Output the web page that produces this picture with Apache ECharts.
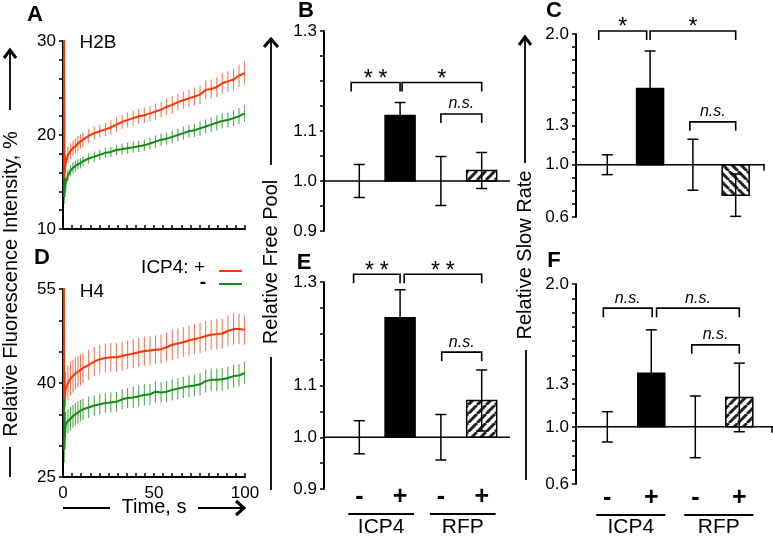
<!DOCTYPE html>
<html><head><meta charset="utf-8">
<script src="https://cdn.jsdelivr.net/npm/echarts@6/dist/echarts.min.js"></script>
<style>html,body{margin:0;padding:0;background:#fff}#c{width:773px;height:538px}</style>
</head><body><div id="c"></div>
<script>
// ---------- Data: panels A & D (time courses) ----------
const timeS = [0, 0.7, 1.4, 2.7, 4.1, 5.5, 6.8, 8.2, 9.6,
  11, 14.1, 17.2, 20.2, 23.3, 26.3, 29.4, 32.5, 35.5, 38.6,
  41.6, 44.7, 47.8, 50.8, 53.9, 56.9, 60, 63.1, 66.1, 69.2,
  72.2, 75.3, 78.4, 81.4, 84.5, 87.5, 90.6, 93.7, 96.7, 99.8];
const h2bPlus = [100, 15.4, 17.0, 17.9, 18.3, 18.6, 18.8, 19.1, 19.3,
  19.5, 19.9, 20.2, 20.4, 20.6, 20.8, 21.1, 21.4, 21.6, 21.8,
  22.0, 22.1, 22.3, 22.5, 22.7, 23.0, 23.2, 23.5, 23.7, 23.9,
  24.1, 24.3, 24.8, 24.9, 25.1, 25.5, 25.7, 25.9, 26.3, 26.6];
const h2bPlusErr = [0, 0.9, 0.9, 0.9, 0.85, 0.8, 0.8, 0.8, 0.75,
  0.75, 0.75, 0.7, 0.7, 0.7, 0.75, 0.75, 0.75, 0.8, 0.8,
  0.8, 0.8, 0.8, 0.85, 0.85, 0.85, 0.9, 0.9, 0.9, 0.95,
  0.95, 1.0, 1.0, 1.0, 1.05, 1.1, 1.1, 1.15, 1.2, 1.25];
const h2bMinus = [100, 13.4, 14.8, 15.7, 16.2, 16.5, 16.7, 16.9, 17.0,
  17.2, 17.5, 17.7, 17.9, 18.1, 18.2, 18.4, 18.5, 18.6, 18.7,
  18.8, 18.9, 19.1, 19.3, 19.5, 19.6, 19.8, 20.0, 20.2, 20.4,
  20.5, 20.7, 20.9, 21.1, 21.3, 21.5, 21.6, 21.8, 22.0, 22.3];
const h2bMinusErr = [0, 0.7, 0.65, 0.6, 0.6, 0.6, 0.6, 0.55, 0.55,
  0.55, 0.55, 0.55, 0.55, 0.55, 0.55, 0.55, 0.6, 0.6, 0.6,
  0.6, 0.6, 0.6, 0.65, 0.65, 0.65, 0.65, 0.7, 0.7, 0.7,
  0.7, 0.75, 0.75, 0.75, 0.8, 0.8, 0.8, 0.85, 0.85, 0.9];
const h4Plus = [100, 37.6, 39.0, 40.0, 40.7, 41.1, 41.5, 41.8, 42.1,
  42.4, 42.9, 43.4, 43.8, 44.0, 44.1, 44.1, 44.3, 44.5, 44.7,
  44.9, 45.1, 45.2, 45.3, 45.4, 45.7, 46.1, 46.3, 46.5, 46.8,
  47.0, 47.2, 47.5, 47.7, 47.8, 47.9, 48.3, 48.6, 48.6, 48.5];
const h4PlusErr = [0, 2.8, 2.8, 2.8, 2.7, 2.6, 2.6, 2.5, 2.5,
  2.4, 2.4, 2.3, 2.3, 2.3, 2.3, 2.3, 2.3, 2.3, 2.3,
  2.3, 2.3, 2.3, 2.3, 2.3, 2.3, 2.4, 2.4, 2.4, 2.4,
  2.4, 2.4, 2.4, 2.4, 2.4, 2.4, 2.5, 2.5, 2.4, 2.4];
const h4Minus = [100, 29.3, 33.4, 33.9, 34.3, 34.7, 35.0, 35.3, 35.6,
  35.8, 36.1, 36.4, 36.6, 36.8, 36.9, 37.0, 37.4, 37.6, 37.7,
  37.9, 38.1, 38.2, 38.6, 38.5, 38.6, 38.9, 39.1, 39.3, 39.5,
  39.6, 39.8, 40.3, 40.5, 40.5, 40.6, 40.8, 41.1, 41.2, 41.6];
const h4MinusErr = [0, 2.0, 2.0, 1.9, 1.9, 1.8, 1.8, 1.8, 1.7,
  1.7, 1.7, 1.6, 1.6, 1.6, 1.6, 1.6, 1.6, 1.6, 1.7,
  1.7, 1.7, 1.7, 1.7, 1.7, 1.7, 1.7, 1.7, 1.7, 1.7,
  1.7, 1.8, 1.8, 1.8, 1.8, 1.8, 1.8, 1.8, 1.8, 1.8];
const timeTicksA = [10, 20, 30];
const timeTicksD = [25, 40, 55];

// ---------- Data: bar panels ----------
const barCategories = ['-', '+', '-', '+'];
const barPositions = [1, 2, 3, 4];
const barGroups = ['ICP4', 'RFP'];
const barGroupMembers = [[1, 2], [3, 4]];
const freePoolH2B = [1.0, 1.131, 1.0, 1.021];
const freePoolH2BErr = [0.033, 0.026, 0.049, 0.036];
const slowRateH2B = [1.0, 1.583, 1.0, 0.767];
const slowRateH2BErr = [0.076, 0.287, 0.195, 0.162];
const freePoolH4 = [1.0, 1.231, 1.0, 1.071];
const freePoolH4Err = [0.032, 0.054, 0.044, 0.059];
const slowRateH4 = [1.0, 1.375, 1.0, 1.206];
const slowRateH4Err = [0.106, 0.304, 0.216, 0.240];
const freePoolTickLabels = [0.9, 1.0, 1.1, 1.3];
const slowRateTickLabels = [0.6, 1.0, 1.3, 2.0];
// significance brackets: [from, to, level, label]
const bracketsB = [[0.8, 2.0, 1.197, '**'], [2.05, 4.0, 1.197, '*'], [3.0, 4.0, 1.134, 'n.s.']];
const bracketsC = [[0.8, 1.92, 2.023, '*'], [2.0, 4.0, 2.023, '*'], [2.93, 4.0, 1.328, 'n.s.']];
const bracketsE = [[0.86, 2.0, 1.315, '**'], [2.1, 4.0, 1.315, '**'], [3.02, 4.0, 1.1645, 'n.s.']];
const bracketsF = [[0.91, 2.02, 1.831, 'n.s.'], [2.12, 4.0, 1.831, 'n.s.'], [2.92, 4.0, 1.574, 'n.s.']];

// ---------- Styling ----------
const FONT = '"Liberation Sans", Arial, sans-serif';
const RED = '#FF3300', GREEN = '#128C12';
const RED_ERR = 'rgba(255,70,30,0.75)', GREEN_ERR = 'rgba(20,140,20,0.75)';

function hatch(dir) {
  const c = document.createElement('canvas'); c.width = 9; c.height = 9;
  const g = c.getContext('2d');
  g.fillStyle = '#fff'; g.fillRect(0, 0, 9, 9);
  g.strokeStyle = '#222'; g.lineWidth = 3; g.beginPath();
  for (let k = -9; k <= 18; k += 9) {
    if (dir > 0) { g.moveTo(k, 9); g.lineTo(k + 9, 0); }
    else { g.moveTo(k, 0); g.lineTo(k + 9, 9); }
  }
  g.stroke();
  return c;
}
const hatchFwd = { image: hatch(1), repeat: 'repeat' };
const hatchBack = { image: hatch(-1), repeat: 'repeat' };

const chart = echarts.init(document.getElementById('c'), null, { renderer: 'canvas' });

function timeX(gi, showLabels) {
  return { type: 'value', gridIndex: gi, min: 0, max: 100, interval: 50,
    axisLine: { onZero: false, lineStyle: { color: '#000', width: 2 } },
    axisTick: { show: true, inside: true, length: 4, lineStyle: { color: '#000', width: 1.5 } },
    minorTick: { show: true, splitNumber: 10, length: 4, lineStyle: { color: '#000', width: 1.5 } },
    splitLine: { show: false }, minorSplitLine: { show: false },
    axisLabel: { show: showLabels, color: '#000', fontSize: 17, fontFamily: FONT, margin: 8 } };
}
function valY(gi, min, max, interval, minorSplit, labels, decimals) {
  const ax = { type: 'value', gridIndex: gi, min, max, interval,
    axisLine: { show: true, onZero: false, lineStyle: { color: '#000', width: 2 } },
    axisTick: { show: true, inside: false, length: 4, lineStyle: { color: '#000', width: 1.5 } },
    splitLine: { show: false }, minorSplitLine: { show: false },
    axisLabel: { color: '#000', fontSize: 17, fontFamily: FONT, margin: 7,
      formatter: v => labels.some(l => Math.abs(l - v) < 1e-6) ? v.toFixed(decimals) : '' } };
  if (minorSplit) ax.minorTick = { show: true, splitNumber: minorSplit, length: 4, lineStyle: { color: '#000', width: 1.5 } };
  return ax;
}
function barX(gi, min, max) {
  return { type: 'value', gridIndex: gi, min, max, show: false };
}

function lineErrSeries(idx, vals, errs, color) {
  return { type: 'custom', xAxisIndex: idx, yAxisIndex: idx, clip: true, silent: true,
    data: timeS.map((t, i) => [t, vals[i], errs[i]]),
    renderItem: (params, api) => {
      const e = api.value(2); if (!e) return null;
      const x = api.value(0), m = api.value(1);
      const a = api.coord([x, m + e]), b = api.coord([x, m - e]);
      return { type: 'line', shape: { x1: a[0], y1: a[1], x2: b[0], y2: b[1] }, style: { stroke: color, lineWidth: 1.1 } };
    } };
}
function lineSeries(idx, vals, color) {
  return { type: 'line', xAxisIndex: idx, yAxisIndex: idx, clip: true, showSymbol: false, silent: true,
    data: timeS.map((t, i) => [t, vals[i]]), lineStyle: { color, width: 2 } };
}

function barPanel(idx, xMin, xMax, vals, errs, brackets, barW, hatchFill, labelRows, endTick) {
  const s = [];
  s.push({ type: 'line', xAxisIndex: idx, yAxisIndex: idx, silent: true, symbol: 'none',
    data: [[xMin, 1.0], [xMax, 1.0]], lineStyle: { color: '#000', width: 1.5 } });
  if (endTick) {
    s.push({ type: 'custom', xAxisIndex: idx, yAxisIndex: idx, silent: true, clip: false,
      data: [[xMax, 1.0]],
      renderItem: (params, api) => {
        const p = api.coord([api.value(0), api.value(1)]);
        return { type: 'line', shape: { x1: p[0] - 1, y1: p[1], x2: p[0] - 1, y2: p[1] + 6 }, style: { stroke: '#000', lineWidth: 1.5 } };
      } });
  }
  s.push({ type: 'custom', xAxisIndex: idx, yAxisIndex: idx, silent: true,
    data: barPositions.map((p, i) => [p, vals[i]]),
    renderItem: (params, api) => {
      const x = api.value(0), v = api.value(1);
      const p0 = api.coord([x, 1.0]), p1 = api.coord([x, v]);
      const h = p1[1] - p0[1]; if (Math.abs(h) < 0.5) return null;
      const solid = params.dataIndex < 2;
      return { type: 'rect', shape: { x: p0[0] - barW / 2, y: Math.min(p0[1], p1[1]), width: barW, height: Math.abs(h) },
        style: { fill: solid ? '#000' : hatchFill, stroke: '#000', lineWidth: 1.5 } };
    } });
  s.push({ type: 'custom', xAxisIndex: idx, yAxisIndex: idx, silent: true,
    data: barPositions.map((p, i) => [p, vals[i], errs[i]]),
    renderItem: (params, api) => {
      const x = api.value(0), m = api.value(1), e = api.value(2);
      const a = api.coord([x, m + e]), b = api.coord([x, m - e]), c = 5.5;
      const st = { stroke: '#000', lineWidth: 1.5 };
      return { type: 'group', children: [
        { type: 'line', shape: { x1: a[0], y1: a[1], x2: b[0], y2: b[1] }, style: st },
        { type: 'line', shape: { x1: a[0] - c, y1: a[1], x2: a[0] + c, y2: a[1] }, style: st },
        { type: 'line', shape: { x1: b[0] - c, y1: b[1], x2: b[0] + c, y2: b[1] }, style: st } ] };
    } });
  s.push({ type: 'custom', xAxisIndex: idx, yAxisIndex: idx, silent: true, clip: false,
    data: brackets.map(b => [b[0], b[1], b[2]]),
    renderItem: (params, api) => {
      const lab = brackets[params.dataIndex][3];
      const p1 = api.coord([api.value(0), api.value(2)]), p2 = api.coord([api.value(1), api.value(2)]);
      const leg = 9, y = p1[1];
      const isNs = lab === 'n.s.';
      return { type: 'group', children: [
        { type: 'polyline', shape: { points: [[p1[0], y + leg], [p1[0], y], [p2[0], y], [p2[0], y + leg]] },
          style: { stroke: '#000', lineWidth: 1.6, fill: null } },
        { type: 'text', style: { text: isNs ? lab : lab.split('').join('\u2005'), x: (p1[0] + p2[0]) / 2, y: y - (isNs ? 10 : 3),
          align: 'center', textAlign: 'center', verticalAlign: 'middle', textVerticalAlign: 'middle',
          font: isNs ? 'italic 16px ' + FONT : '23px ' + FONT, fill: '#000' } } ] };
    } });
  if (labelRows) {
    s.push({ type: 'custom', xAxisIndex: idx, yAxisIndex: idx, silent: true, clip: false,
      data: barPositions.map(p => [p, 1.0]),
      renderItem: (params, api) => {
        const cs = params.coordSys, bottom = cs.y + cs.height;
        const i = params.dataIndex;
        const p = api.coord([api.value(0), 1.0]);
        const children = [{ type: 'text', style: { text: barCategories[i], x: p[0], y: bottom + labelRows[0],
          align: 'center', textAlign: 'center', verticalAlign: 'middle', textVerticalAlign: 'middle',
          font: 'bold 25px ' + FONT, fill: '#000' } }];
        barGroupMembers.forEach((mem, g) => {
          if (mem[0] !== barPositions[i]) return;
          const a = api.coord([mem[0], 1.0]), b = api.coord([mem[mem.length - 1], 1.0]);
          const x1 = a[0] - 11, x2 = b[0] + 14;
          children.push({ type: 'line', shape: { x1, y1: bottom + labelRows[1], x2, y2: bottom + labelRows[1] },
            style: { stroke: '#000', lineWidth: 2.2 } });
          children.push({ type: 'text', style: { text: barGroups[g], x: (x1 + x2) / 2, y: bottom + labelRows[2],
            align: 'center', textAlign: 'center', verticalAlign: 'middle', textVerticalAlign: 'middle',
            font: '21px ' + FONT, fill: '#000' } });
        });
        return { type: 'group', children };
      } });
  }
  return s;
}

// decorations
function txt(text, x, y, font, rot) {
  return { type: 'text', x, y, rotation: rot || 0, silent: true,
    style: { text, align: 'center', textAlign: 'center', verticalAlign: 'middle', textVerticalAlign: 'middle', font, fill: '#000' } };
}
function seg(x1, y1, x2, y2, w, color) {
  return { type: 'line', silent: true, shape: { x1, y1, x2, y2 }, style: { stroke: color || '#000', lineWidth: w || 1.8 } };
}
function chevron(points) {
  return { type: 'polyline', silent: true, shape: { points }, style: { stroke: '#000', lineWidth: 3, fill: null, lineJoin: 'miter' } };
}
const titleFont = '20px ' + FONT;
const graphics = [
  txt('A', 35, 15, 'bold 22px ' + FONT), txt('B', 306, 11, 'bold 22px ' + FONT), txt('C', 554, 11, 'bold 22px ' + FONT),
  txt('D', 42, 258, 'bold 22px ' + FONT), txt('E', 304, 263, 'bold 22px ' + FONT), txt('F', 554, 261, 'bold 22px ' + FONT),
  txt('H2B', 98, 43, '19px ' + FONT), txt('H4', 92, 292, '19px ' + FONT),
  // legend
  { type: 'text', x: 205, y: 268, silent: true, style: { text: 'ICP4: +', align: 'right', textAlign: 'right', verticalAlign: 'middle', textVerticalAlign: 'middle', font: '19px ' + FONT, fill: '#000' } },
  txt('-', 203, 283, 'bold 19px ' + FONT),
  seg(219, 271, 242, 271, 2, RED), seg(219, 284, 242, 284, 2, GREEN),
  // left y title
  txt('Relative Fluorescence Intensity, %', 11, 284, titleFont, Math.PI / 2),
  seg(10, 50, 10, 110), chevron([[4, 58], [10, 50], [16, 58]]), seg(10, 447, 10, 477),
  // time title
  txt('Time, s', 154, 507, titleFont),
  seg(63, 508, 110, 508), seg(198, 508, 244, 508), chevron([[236, 501], [244, 508], [236, 515]]),
  // free pool title
  txt('Relative Free Pool', 271, 262, titleFont, Math.PI / 2),
  seg(271, 40, 271, 165), chevron([[264, 47], [271, 39], [278, 47]]), seg(271, 357, 271, 490),
  // slow rate title
  txt('Relative Slow Rate', 525, 255, titleFont, Math.PI / 2),
  seg(525, 38, 525, 163), chevron([[519, 45], [525, 37], [531, 45]]), seg(526, 350, 526, 480)
];

const option = {
  animation: false,
  backgroundColor: '#fff',
  textStyle: { fontFamily: FONT },
  grid: [
    { left: 63, top: 41, width: 182, height: 188, outerBoundsMode: 'none', containLabel: false },
    { left: 63, top: 289, width: 182, height: 188, outerBoundsMode: 'none', containLabel: false },
    { left: 324, top: 31, width: 186, height: 200, outerBoundsMode: 'none', containLabel: false },
    { left: 324, top: 282, width: 186, height: 207, outerBoundsMode: 'none', containLabel: false },
    { left: 576, top: 34, width: 189, height: 183, outerBoundsMode: 'none', containLabel: false },
    { left: 576, top: 284, width: 197, height: 200, outerBoundsMode: 'none', containLabel: false }
  ],
  xAxis: [timeX(0, false), timeX(1, true),
    barX(2, 0.135, 4.694), barX(3, 0.135, 4.694), barX(4, 0.269, 4.685), barX(5, 0.289, 4.766)],
  yAxis: [valY(0, 10, 30, 10, 5, timeTicksA, 0), valY(1, 25, 55, 15, 3, timeTicksD, 0),
    valY(2, 0.9, 1.3, 0.05, 0, freePoolTickLabels, 1), valY(3, 0.9, 1.3, 0.05, 0, freePoolTickLabels, 1),
    valY(4, 0.6, 2.0, 0.1, 0, slowRateTickLabels, 1), valY(5, 0.6, 2.0, 0.1, 0, slowRateTickLabels, 1)],
  series: [
    lineErrSeries(0, h2bMinus, h2bMinusErr, GREEN_ERR), lineSeries(0, h2bMinus, GREEN),
    lineErrSeries(0, h2bPlus, h2bPlusErr, RED_ERR), lineSeries(0, h2bPlus, RED),
    lineErrSeries(1, h4Minus, h4MinusErr, GREEN_ERR), lineSeries(1, h4Minus, GREEN),
    lineErrSeries(1, h4Plus, h4PlusErr, RED_ERR), lineSeries(1, h4Plus, RED),
    ...barPanel(2, 0.135, 4.694, freePoolH2B, freePoolH2BErr, bracketsB, 30, hatchFwd, null, false),
    ...barPanel(3, 0.135, 4.694, freePoolH4, freePoolH4Err, bracketsE, 30, hatchFwd, [8, 25, 38], false),
    ...barPanel(4, 0.269, 4.685, slowRateH2B, slowRateH2BErr, bracketsC, 27, hatchBack, null, true),
    ...barPanel(5, 0.289, 4.766, slowRateH4, slowRateH4Err, bracketsF, 27, hatchFwd, [14, 31, 43], true)
  ],
  graphic: { elements: graphics }
};
chart.setOption(option);
</script></body></html>
